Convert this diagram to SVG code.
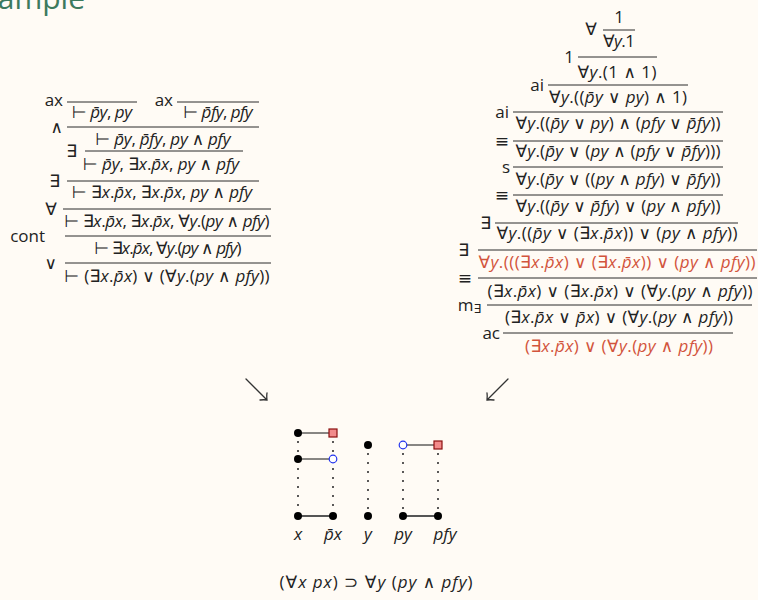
<svg xmlns="http://www.w3.org/2000/svg" width="758" height="600" viewBox="0 0 758 600">
<style>
text{font-family:"Open Sans","DejaVu Sans",sans-serif;fill:#222}
.f{font-size:17px;text-anchor:middle}
.l{font-size:17px;text-anchor:end}
.i{font-style:italic}
.r{fill:#d2543c}
.bar{stroke:#2a2a2a;stroke-width:1}
.title{font-size:30px;fill:#3d7a5e;text-anchor:end}
.dotl{stroke:#222;stroke-width:2;stroke-linecap:round;stroke-dasharray:0 9;fill:none}
.thin{stroke:#111;stroke-width:1}
.thick{stroke:#555;stroke-width:2}
.bk{fill:#000}
.bl{fill:#fff;stroke:#2233ee;stroke-width:1.2}
.rd{fill:#f28b8b;stroke:#8b1010;stroke-width:1.2}
.arr{stroke:#333;stroke-width:1.3;fill:none;stroke-linecap:round}
</style>
<rect width="758" height="600" fill="#fffbf5"/>
<text class="title" x="85" y="8.5">Example</text>

<g id="left-proof">
<line class="bar" x1="67" y1="102" x2="137" y2="102"/>
<text class="l" x="63" y="106">ax</text>
<text class="f" x="102" y="118" textLength="60">⊢ <tspan class="i">p̄y</tspan>, <tspan class="i">py</tspan></text>
<line class="bar" x1="177" y1="102" x2="259" y2="102"/>
<text class="l" x="173" y="106">ax</text>
<text class="f" x="218" y="118" textLength="69">⊢ <tspan class="i">p̄fy</tspan>, <tspan class="i">pfy</tspan></text>
<line class="bar" x1="67" y1="127" x2="259" y2="127"/>
<text class="l" x="63" y="133">∧</text>
<text class="f" x="163" y="145" textLength="135">⊢ <tspan class="i">p̄y</tspan>, <tspan class="i">p̄fy</tspan>, <tspan class="i">py</tspan> ∧ <tspan class="i">pfy</tspan></text>
<line class="bar" x1="85" y1="151" x2="243" y2="151"/>
<text class="l" x="77" y="157">∃</text>
<text class="f" x="161" y="170" textLength="156">⊢ <tspan class="i">p̄y</tspan>, ∃<tspan class="i">x</tspan>.<tspan class="i">p̄x</tspan>, <tspan class="i">py</tspan> ∧ <tspan class="i">pfy</tspan></text>
<line class="bar" x1="67" y1="181" x2="259" y2="181"/>
<text class="l" x="60" y="187">∃</text>
<text class="f" x="162" y="198" textLength="180">⊢ ∃<tspan class="i">x</tspan>.<tspan class="i">p̄x</tspan>, ∃<tspan class="i">x</tspan>.<tspan class="i">p̄x</tspan>, <tspan class="i">py</tspan> ∧ <tspan class="i">pfy</tspan></text>
<line class="bar" x1="63" y1="209" x2="271" y2="209"/>
<text class="l" x="57" y="215">∀</text>
<text class="f" x="167" y="227" textLength="205">⊢ ∃<tspan class="i">x</tspan>.<tspan class="i">p̄x</tspan>, ∃<tspan class="i">x</tspan>.<tspan class="i">p̄x</tspan>, ∀<tspan class="i">y</tspan>.(<tspan class="i">py</tspan> ∧ <tspan class="i">pfy</tspan>)</text>
<line class="bar" x1="65" y1="236" x2="271" y2="236"/>
<text class="l" x="45" y="242">cont</text>
<text class="f" x="168" y="254" textLength="147">⊢ ∃<tspan class="i">x</tspan>.<tspan class="i">p̄x</tspan>, ∀<tspan class="i">y</tspan>.(<tspan class="i">py</tspan> ∧ <tspan class="i">pfy</tspan>)</text>
<line class="bar" x1="65" y1="263" x2="271" y2="263"/>
<text class="l" x="57" y="269">∨</text>
<text class="f" x="167" y="282" textLength="205">⊢ (∃<tspan class="i">x</tspan>.<tspan class="i">p̄x</tspan>) ∨ (∀<tspan class="i">y</tspan>.(<tspan class="i">py</tspan> ∧ <tspan class="i">pfy</tspan>))</text>
</g>

<g id="right-proof">
<text class="f" x="619" y="23">1</text>
<line class="bar" x1="603" y1="30" x2="635" y2="30"/>
<text class="l" x="597" y="35">∀</text>
<text class="f" x="619" y="47" textLength="32">∀<tspan class="i">y</tspan>.1</text>
<line class="bar" x1="578" y1="57" x2="657" y2="57"/>
<text class="l" x="574" y="63">1</text>
<text class="f" x="617" y="78" textLength="79">∀<tspan class="i">y</tspan>.(1 ∧ 1)</text>
<line class="bar" x1="548" y1="85" x2="688" y2="85"/>
<text class="l" x="544" y="91">ai</text>
<text class="f" x="618" y="103" textLength="138">∀<tspan class="i">y</tspan>.((<tspan class="i">p̄y</tspan> ∨ <tspan class="i">py</tspan>) ∧ 1)</text>
<line class="bar" x1="513" y1="112" x2="723" y2="112"/>
<text class="l" x="509" y="118">ai</text>
<text class="f" x="618" y="129" textLength="205">∀<tspan class="i">y</tspan>.((<tspan class="i">p̄y</tspan> ∨ <tspan class="i">py</tspan>) ∧ (<tspan class="i">pfy</tspan> ∨ <tspan class="i">p̄fy</tspan>))</text>
<line class="bar" x1="513" y1="141" x2="723" y2="141"/>
<text class="l" x="509" y="147">≡</text>
<text class="f" x="618" y="157" textLength="205">∀<tspan class="i">y</tspan>.(<tspan class="i">p̄y</tspan> ∨ (<tspan class="i">py</tspan> ∧ (<tspan class="i">pfy</tspan> ∨ <tspan class="i">p̄fy</tspan>)))</text>
<line class="bar" x1="513" y1="167" x2="723" y2="167"/>
<text class="l" x="510" y="173">s</text>
<text class="f" x="618" y="185" textLength="205">∀<tspan class="i">y</tspan>.(<tspan class="i">p̄y</tspan> ∨ ((<tspan class="i">py</tspan> ∧ <tspan class="i">pfy</tspan>) ∨ <tspan class="i">p̄fy</tspan>))</text>
<line class="bar" x1="513" y1="195" x2="723" y2="195"/>
<text class="l" x="509" y="201">≡</text>
<text class="f" x="618" y="212" textLength="205">∀<tspan class="i">y</tspan>.((<tspan class="i">p̄y</tspan> ∨ <tspan class="i">p̄fy</tspan>) ∨ (<tspan class="i">py</tspan> ∧ <tspan class="i">pfy</tspan>))</text>
<line class="bar" x1="495" y1="223" x2="738" y2="223"/>
<text class="l" x="491" y="229">∃</text>
<text class="f" x="617" y="239" textLength="241">∀<tspan class="i">y</tspan>.((<tspan class="i">p̄y</tspan> ∨ (∃<tspan class="i">x</tspan>.<tspan class="i">p̄x</tspan>)) ∨ (<tspan class="i">py</tspan> ∧ <tspan class="i">pfy</tspan>))</text>
<line class="bar" x1="478" y1="250" x2="757" y2="250"/>
<text class="l" x="469" y="256">∃</text>
<text class="f r" x="617" y="268" textLength="277">∀<tspan class="i">y</tspan>.(((∃<tspan class="i">x</tspan>.<tspan class="i">p̄x</tspan>) ∨ (∃<tspan class="i">x</tspan>.<tspan class="i">p̄x</tspan>)) ∨ (<tspan class="i">py</tspan> ∧ <tspan class="i">pfy</tspan>))</text>
<line class="bar" x1="478" y1="278" x2="757" y2="278"/>
<text class="l" x="472" y="284">≡</text>
<text class="f" x="620" y="297" textLength="265">(∃<tspan class="i">x</tspan>.<tspan class="i">p̄x</tspan>) ∨ (∃<tspan class="i">x</tspan>.<tspan class="i">p̄x</tspan>) ∨ (∀<tspan class="i">y</tspan>.(<tspan class="i">py</tspan> ∧ <tspan class="i">pfy</tspan>))</text>
<line class="bar" x1="487" y1="305" x2="752" y2="305"/>
<text class="l" x="481" y="311">m<tspan style="font-size:12px" dy="2">∃</tspan></text>
<text class="f" x="619" y="323" textLength="228">(∃<tspan class="i">x</tspan>.<tspan class="i">p̄x</tspan> ∨ <tspan class="i">p̄x</tspan>) ∨ (∀<tspan class="i">y</tspan>.(<tspan class="i">py</tspan> ∧ <tspan class="i">pfy</tspan>))</text>
<line class="bar" x1="503" y1="333" x2="733" y2="333"/>
<text class="l" x="500" y="339">ac</text>
<text class="f r" x="619" y="352" textLength="188">(∃<tspan class="i">x</tspan>.<tspan class="i">p̄x</tspan>) ∨ (∀<tspan class="i">y</tspan>.(<tspan class="i">py</tspan> ∧ <tspan class="i">pfy</tspan>))</text>
</g>

<g id="connectors">
<path class="arr" d="M246,379 L267,400 M260,400 Q264,399.5 267,400 Q266.5,396 267,393"/>
<path class="arr" d="M508,379 L487,400 M494,400 Q490,399.5 487,400 Q487.5,396 487,393"/>
<line class="dotl" x1="298" y1="433" x2="298" y2="516"/>
<line class="dotl" x1="333" y1="433" x2="333" y2="516"/>
<line class="dotl" x1="368" y1="445" x2="368" y2="516"/>
<line class="dotl" x1="403" y1="445" x2="403" y2="516"/>
<line class="dotl" x1="438" y1="445" x2="438" y2="516"/>
<line class="thin" x1="298" y1="433" x2="333" y2="433"/>
<line class="thin" x1="298" y1="459" x2="333" y2="459"/>
<line class="thin" x1="403" y1="445" x2="438" y2="445"/>
<line class="thick" x1="298" y1="516" x2="333" y2="516"/>
<line class="thick" x1="403" y1="516" x2="438" y2="516"/>
</g>

<g id="n-x-top"><circle class="bk" cx="298" cy="433" r="4"/></g>
<g id="n-px-top"><rect class="rd" x="329" y="429" width="8" height="8"/></g>
<g id="n-x-mid"><circle class="bk" cx="298" cy="459" r="4"/></g>
<g id="n-px-mid"><circle class="bl" cx="333" cy="459" r="3.8"/></g>
<g id="n-y-top"><circle class="bk" cx="368" cy="445" r="4"/></g>
<g id="n-py-top"><circle class="bl" cx="403" cy="445" r="3.8"/></g>
<g id="n-pfy-top"><rect class="rd" x="434" y="441" width="8" height="8"/></g>
<g id="n-x"><circle class="bk" cx="298" cy="516" r="4"/><text class="f i" x="298" y="540" style="font-size:17px">x</text></g>
<g id="n-px"><circle class="bk" cx="333" cy="516" r="4"/><text class="f i" x="333" y="540" style="font-size:17px">p̄x</text></g>
<g id="n-y"><circle class="bk" cx="368" cy="516" r="4"/><text class="f i" x="368" y="540" style="font-size:17px">y</text></g>
<g id="n-py"><circle class="bk" cx="403" cy="516" r="4"/><text class="f i" x="403" y="540" style="font-size:17px">py</text></g>
<g id="n-pfy"><circle class="bk" cx="438" cy="516" r="4"/><text class="f i" x="445" y="540" style="font-size:17px">pfy</text></g>

<text class="f" x="376" y="588" style="font-size:17px" textLength="193">(∀<tspan class="i">x</tspan> <tspan class="i">px</tspan>) ⊃ ∀<tspan class="i">y</tspan> (<tspan class="i">py</tspan> ∧ <tspan class="i">pfy</tspan>)</text>
</svg>
